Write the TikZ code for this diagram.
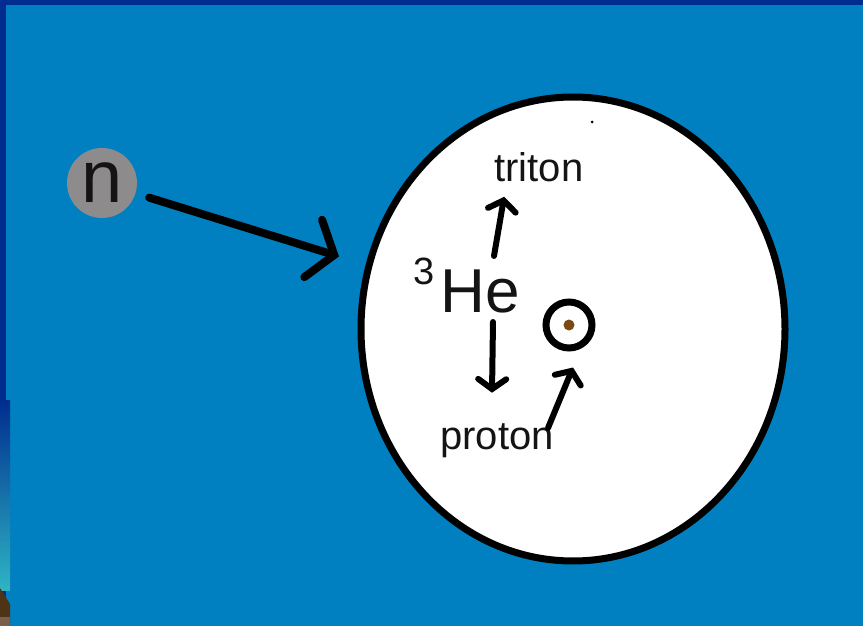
\documentclass[tikz,border=0pt]{standalone}
\usepackage{fontspec}
\setmainfont{Liberation Sans}
\usepackage{xcolor}
\usetikzlibrary{arrows.meta, positioning, calc, shapes.geometric}

\definecolor{sky}{HTML}{0080C0}
\definecolor{frameblue}{HTML}{002D8F}
\definecolor{edgeteal}{HTML}{2EB4C4}
\definecolor{edgebrown}{HTML}{4E3414}
\definecolor{edgetan}{HTML}{7A6048}
\definecolor{ngray}{HTML}{8E8B8D}
\definecolor{dotbrown}{HTML}{7B4A14}
\definecolor{ink}{HTML}{141414}

\begin{document}
\begin{tikzpicture}[x=0.5pt, y=-0.5pt,
                    lbl/.style={font=\fontsize{20}{24}\selectfont, inner sep=0pt, text=ink},
                    big/.style={font=\fontsize{31}{36}\selectfont, inner sep=0pt, text=ink},
                    bar/.style={line width=3pt, line cap=round,
                                -{Straight Barb[length=5pt, width=14pt, line cap=round]}}]
  \useasboundingbox (0,0) rectangle (863,626);
  % background and frame
  \fill[frameblue] (0,0) rectangle (863,626);
  \fill[sky] (6,5) rectangle (863,626);
  \fill[sky] (10,400) rectangle (863,626);
  \shade[top color=frameblue, bottom color=edgeteal] (0,400) rectangle (10,590);
  \fill[edgebrown] (0,588) -- (10,604) -- (10,626) -- (0,626) -- cycle;
  \fill[edgetan] (0,617) -- (10,617) -- (10,626) -- (0,626) -- cycle;
  % neutron and nucleus
  \node[circle, fill=ngray, minimum size=35pt, big, font=\fontsize{37}{40}\selectfont]
        (n) at (102,183) {n};
  \node[ellipse, draw=black, line width=3.5pt, fill=white, inner sep=0pt,
        minimum width=212pt, minimum height=232pt] (nucleus) at (573,329) {};
  \fill[black] (592,122) circle (1.5);
  \node[circle, draw=black, line width=3.5pt, fill=white, inner sep=0pt,
        minimum size=23pt] (target) at (569,325) {};
  \node[circle, fill=dotbrown, inner sep=0pt, minimum size=5.5pt] (dot) at (target) {};
  % labels
  \node[big, anchor=base] (he) at (480,313) {He};
  \node[lbl, font=\fontsize{19}{22}\selectfont] (three) at (424,271) {3};
  \node[lbl, anchor=base] (triton) at (539,182) {triton};
  \node[lbl, anchor=base] (proton) at (497,449) {proton};
  % arrows
  \draw[line width=4pt, line cap=round, shorten <=7pt, shorten >=14pt,
        -{Straight Barb[length=11pt, width=30pt, line cap=round]}] (n) -- (nucleus);
  \draw[bar] ([xshift=7pt, yshift=7pt]he.north)
        -- ([xshift=5pt, yshift=-7pt]triton.south west);
  \draw[bar] ([xshift=6.5pt, yshift=-4pt]he.south)
        -- ([xshift=-2.5pt, yshift=15pt]proton.north);
  \draw[bar] ([xshift=-3pt, yshift=-2.5pt]proton.north east)
        -- ([xshift=2pt, yshift=-8pt]target.south);
\end{tikzpicture}
\end{document}
